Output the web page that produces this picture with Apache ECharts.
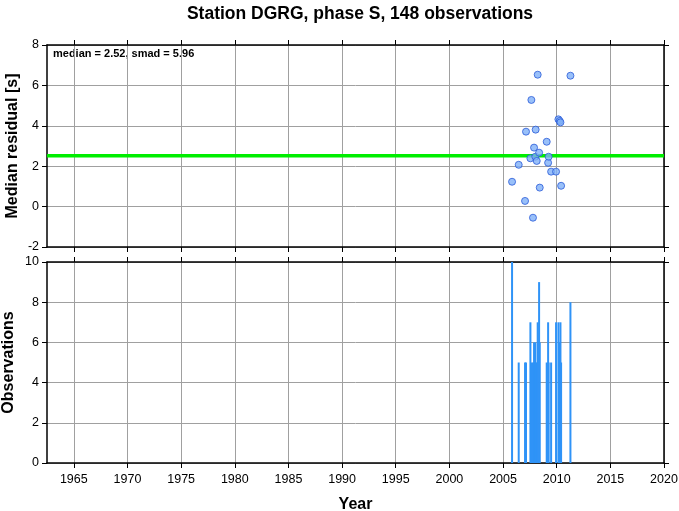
<!DOCTYPE html>
<html><head><meta charset="utf-8">
<script src="https://cdn.jsdelivr.net/npm/echarts@6/dist/echarts.min.js"></script>
<style>html,body{margin:0;padding:0;background:#fff}#c{width:679px;height:511px}</style>
</head><body><div id="c"></div>
<script>
const titleText = 'Station DGRG, phase S, 148 observations';
const noteText = 'median = 2.52, smad = 5.96';
const medianValue = 2.52;
const xRange = [1962.5, 2020];
const xTicks = [1965,1970,1975,1980,1985,1990,1995,2000,2005,2010,2015,2020];
// per-event time (decimal year), median residual, observation count
const eventYears = [2005.84,2006.46,2007.05,2007.14,2007.55,2007.64,2007.79,2007.89,2008.01,2008.04,2008.14,2008.23,2008.36,2008.42,2009.07,2009.20,2009.25,2009.48,2009.94,2010.16,2010.28,2010.35,2010.41,2011.28];
const residuals  = [1.23,2.07,0.28,3.71,2.39,5.28,-0.55,2.92,2.47,3.81,2.26,6.53,2.67,0.94,3.21,2.17,2.47,1.73,1.73,4.32,4.24,4.17,1.03,6.48];
const obsCounts  = [10,5,5,5,7,5,5,6,6,5,5,7,9,6,5,7,5,5,7,7,6,7,5,8];

const font = 'Liberation Sans, Arial, Helvetica, sans-serif';
const chart = echarts.init(document.getElementById('c'));
const frame = {show:true, onZero:false, lineStyle:{color:'#000', width:1.5}};
const tickOut = {show:true, inside:false, length:5, lineStyle:{color:'#000', width:1}};
const grid = {show:true, lineStyle:{color:'#a0a0a0', width:1}};
const lbl = {color:'#000', fontSize:12.5, fontFamily:font};

function xAx(gi, pos, showLabel){
  return {type:'value', gridIndex:gi, position:pos, min:xRange[0], max:xRange[1],
    axisLine:frame, axisTick:Object.assign({customValues:xTicks}, tickOut),
    axisLabel:Object.assign({show:showLabel, customValues:xTicks, margin:10, formatter:v=>String(v)}, lbl),
    splitLine: pos==='bottom' ? grid : {show:false},
    name: (gi===1 && pos==='bottom') ? 'Year' : '', nameLocation:'middle', nameGap:34,
    nameMoveOverlap:false,
    nameTextStyle:{fontSize:16, fontWeight:'bold', fontFamily:font, color:'#000'}};
}
function yAx(gi, pos, mn, mx, nm, gap){
  return {type:'value', gridIndex:gi, position:pos, min:mn, max:mx, interval:2,
    axisLine:frame, axisTick:tickOut,
    axisLabel:Object.assign({show:pos==='left', margin:8}, lbl),
    splitLine: pos==='left' ? grid : {show:false},
    name: pos==='left' ? nm : '', nameLocation:'middle', nameGap:gap || 28,
    nameMoveOverlap:false,
    nameTextStyle:{fontSize:16, fontWeight:'bold', fontFamily:font, color:'#000'}};
}
const medLine = [[xRange[0], medianValue],[xRange[1], medianValue]];
chart.setOption({
  animation:false,
  title:{text:titleText, left:355, textAlign:'center', top:0,
    textStyle:{fontSize:17.5, fontWeight:'bold', fontFamily:font, color:'#000'}},
  grid:[{left:47, right:15, top:45, height:202, outerBoundsMode:'none', containLabel:false},
        {left:47, right:15, top:262, height:201, outerBoundsMode:'none', containLabel:false}],
  xAxis:[xAx(0,'bottom',false), xAx(0,'top',false), xAx(1,'bottom',true), xAx(1,'top',false)],
  yAxis:[yAx(0,'left',-2,8,'Median residual [s]',26), yAx(0,'right',-2,8,''), yAx(1,'left',0,10,'Observations',30), yAx(1,'right',0,10,'')],
  graphic:[{type:'text', left:53, top:48, style:{text:noteText, fontSize:11, fontWeight:'bold', fontFamily:font, fill:'#000'}}],
  series:[
    {type:'line', xAxisIndex:0, yAxisIndex:0, data:medLine, symbol:'none', lineStyle:{color:'#00ee00', width:3.5}, z:3},
    {type:'scatter', xAxisIndex:0, yAxisIndex:0, data:eventYears.map((x,i)=>[x,residuals[i]]), symbolSize:7,
      itemStyle:{color:'#7fb0f7', borderColor:'#2a5bd8', borderWidth:1}, z:4},
    {type:'custom', xAxisIndex:2, yAxisIndex:2, data:eventYears.map((x,i)=>[x,obsCounts[i]]),
      encode:{x:0, y:1},
      renderItem:function(params, api){
        const top = api.coord([api.value(0), api.value(1)]);
        const base = api.coord([api.value(0), 0]);
        const w = 2;
        return {type:'rect', shape:{x:top[0]-w/2, y:top[1], width:w, height:base[1]-top[1]},
          style:{fill:'#2f93f7'}};
      }}
  ]
});
</script></body></html>
